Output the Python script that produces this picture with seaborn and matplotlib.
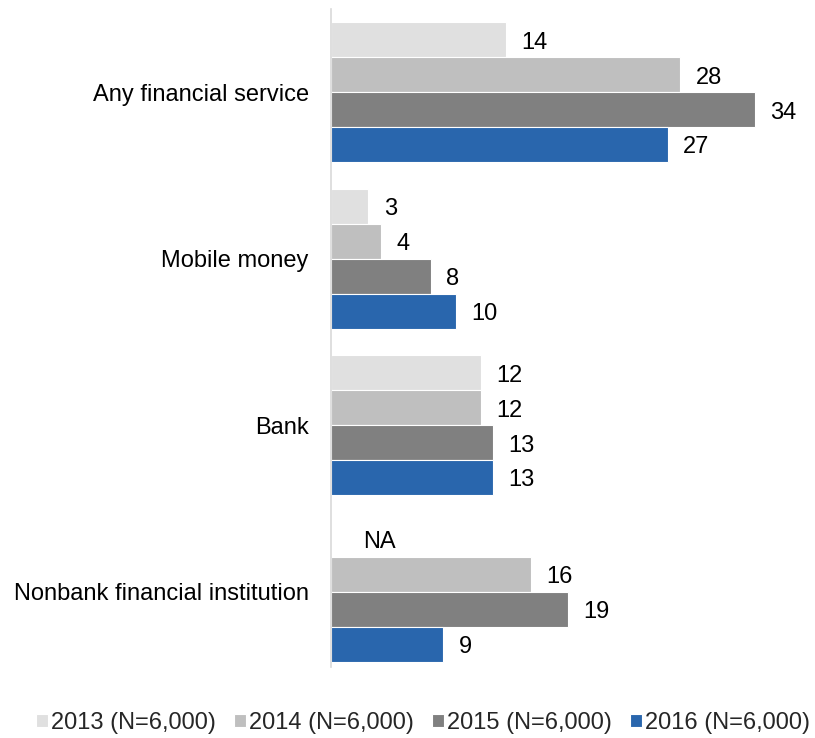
import numpy as np
import pandas as pd
import matplotlib
matplotlib.use("Agg")
import matplotlib.pyplot as plt
import seaborn as sns

categories = ["Any financial service", "Mobile money", "Bank", "Nonbank financial institution"]
years = ["2013 (N=6,000)", "2014 (N=6,000)", "2015 (N=6,000)", "2016 (N=6,000)"]
v2013 = [14, 3, 12, np.nan]
v2014 = [28, 4, 12, 16]
v2015 = [34, 8, 13, 19]
v2016 = [27, 10, 13, 9]
colors = ["#E0E0E0", "#BFBFBF", "#808080", "#2966AD"]

rows = []
for yr, vals in zip(years, [v2013, v2014, v2015, v2016]):
    for cat, v in zip(categories, vals):
        rows.append({"category": cat, "year": yr, "value": v})
df = pd.DataFrame(rows)

sns.set_theme(style="white")
plt.rcParams["font.family"] = ["Liberation Sans", "DejaVu Sans"]

fig = plt.figure(figsize=(8.15, 7.38), dpi=100)
ax = fig.add_axes([331 / 815, 1 - 675 / 738, 1 - 331 / 815, 666 / 738])

group_width = 0.84
sns.barplot(data=df, y="category", x="value", hue="year", order=categories,
            hue_order=years, palette=colors, saturation=1, orient="h",
            width=group_width, edgecolor="white", linewidth=0.8, ax=ax,
            errorbar=None)

for cont in ax.containers:
    for txt in ax.bar_label(cont, fmt="%g", padding=15, fontsize=17, color="#000000"):
        txt.xyann = (11, -2)

# Missing survey years are marked with "NA" at their slot in the group
n_h = len(years)
for hi, vals in enumerate([v2013, v2014, v2015, v2016]):
    for ci, v in enumerate(vals):
        if np.isnan(v):
            ypos = ci - group_width / 2 + group_width / n_h * (hi + 0.5)
            ax.annotate("NA", xy=(0, ypos), xytext=(32, -3), textcoords="offset pixels",
                        va="center", ha="left", fontsize=17, color="#000000")

ax.set_xlim(0, 484 / (424 / 34))
ax.set_ylim(3.5, -0.5)
ax.set_xlabel("")
ax.set_ylabel("")
ax.set_xticks([])
ax.tick_params(axis="y", length=0, pad=16, labelsize=17, labelcolor="#000000")
for s in ["top", "right", "bottom"]:
    ax.spines[s].set_visible(False)
ax.spines["left"].set_color("#D9D9D9")
ax.spines["left"].set_linewidth(1.2)
ax.spines["left"].set_bounds(3.45, -0.5)

handles, labels = ax.get_legend_handles_labels()
ax.get_legend().remove()
fig.legend(handles, labels, loc="center", bbox_to_anchor=(423 / 815, 1 - 723 / 738),
           ncol=4, frameon=False, fontsize=17, handlelength=0.5, handleheight=0.5,
           handletextpad=0.15, columnspacing=0.75, borderaxespad=0, borderpad=0)

fig.savefig("out.png", dpi=100)
